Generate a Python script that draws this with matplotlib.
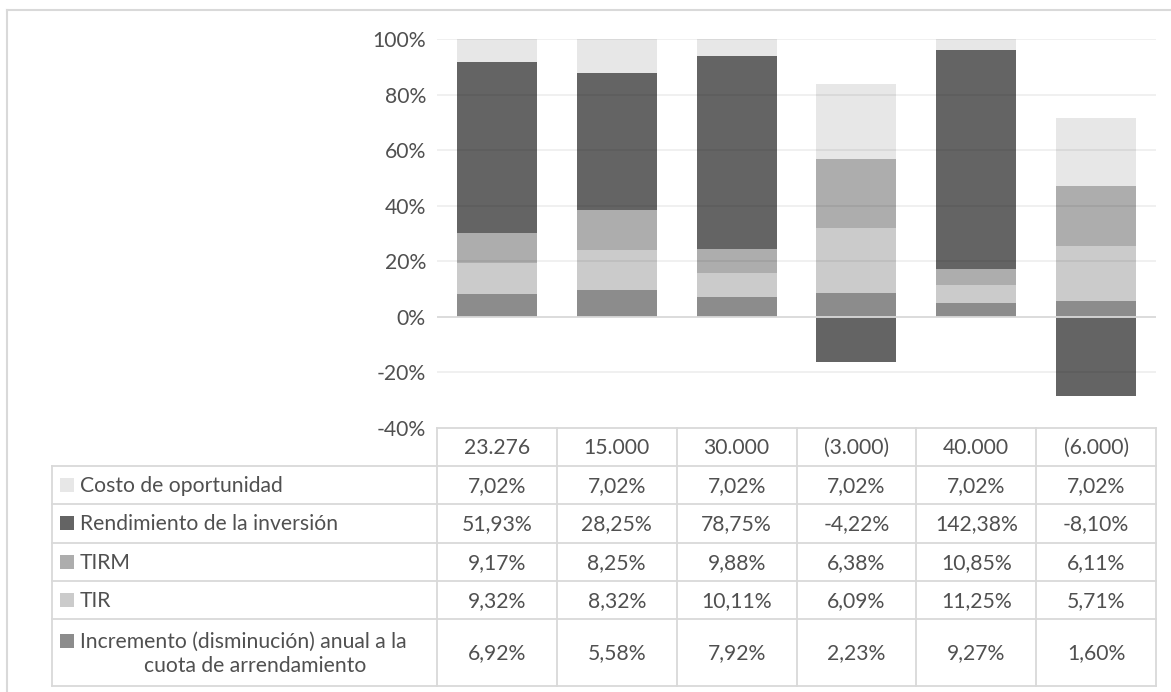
import matplotlib
matplotlib.use("Agg")
import matplotlib.pyplot as plt
import numpy as np
from matplotlib.patches import Rectangle
from matplotlib.lines import Line2D

# ---- data ----
categories = ["23.276", "15.000", "30.000", "(3.000)", "40.000", "(6.000)"]
series_names = ["Costo de oportunidad", "Rendimiento de la inversión", "TIRM", "TIR",
                "Incremento (disminución) anual a la\ncuota de arrendamiento"]
costo = [7.02, 7.02, 7.02, 7.02, 7.02, 7.02]
rendimiento = [51.93, 28.25, 78.75, -4.22, 142.38, -8.10]
tirm = [9.17, 8.25, 9.88, 6.38, 10.85, 6.11]
tir = [9.32, 8.32, 10.11, 6.09, 11.25, 5.71]
incremento = [6.92, 5.58, 7.92, 2.23, 9.27, 1.60]
yticks = [-0.4, -0.2, 0.0, 0.2, 0.4, 0.6, 0.8, 1.0]

colors = {"costo": "#E7E7E7", "rend": "#646464", "tirm": "#ADADAD",
          "tir": "#CBCBCB", "inc": "#8C8C8C"}

W, H = 1171, 692
fig = plt.figure(figsize=(W / 100, H / 100), dpi=100)
plt.rcParams['font.family'] = ['Lato', 'DejaVu Sans']
TXT = "#505050"
LINE = "#D9D9D9"
FS = 15.2


def fx(x):
    return x / W


def fy(y):
    return 1 - y / H


# plot area
px_l, px_r, px_t, px_b = 437, 1156, 39, 428
ax = fig.add_axes([fx(px_l), fy(px_b), fx(px_r - px_l), (px_b - px_t) / H])

# stacking order bottom->top
stack = [("inc", incremento), ("tir", tir), ("tirm", tirm), ("rend", rendimiento), ("costo", costo)]
vals = np.array([s[1] for s in stack], dtype=float)
tot = np.abs(vals).sum(axis=0)
pct = vals / tot
x = np.arange(len(categories))
pos_base = np.zeros(len(categories))
neg_base = np.zeros(len(categories))
for (key, _), p in zip(stack, pct):
    bottoms = np.where(p >= 0, pos_base, neg_base)
    ax.bar(x, p, 0.667, bottom=bottoms, color=colors[key], zorder=2, linewidth=0)
    pos_base = pos_base + np.where(p >= 0, p, 0)
    neg_base = neg_base + np.where(p < 0, p, 0)

ax.set_xlim(-0.5, len(categories) - 0.5)
ax.set_ylim(-0.4, 1.0)
ax.set_yticks(yticks)
ax.set_yticklabels([f"{int(round(t * 100))}%" for t in yticks], color=TXT, fontsize=FS)
ax.tick_params(axis='y', length=0, pad=8)
ax.set_xticks([])
for t in yticks:
    if t == 0:
        ax.axhline(t, color=LINE, lw=1.3, zorder=3)
    elif t > -0.4:
        ax.axhline(t, color=(0, 0, 0, 0.07), lw=1.2, zorder=3)
for s in ax.spines.values():
    s.set_visible(False)

# ---- data table ----
col_edges = [px_l + i * (px_r - px_l) / len(categories) for i in range(len(categories) + 1)]
row_edges = [428, 466, 504, 542.5, 581, 619, 686]
left_edge = 52


def hline(y, x0, x1):
    fig.add_artist(Line2D([fx(x0), fx(x1)], [fy(y), fy(y)], color=LINE, lw=1.3))


def vline(x0, y0, y1):
    fig.add_artist(Line2D([fx(x0), fx(x0)], [fy(y0), fy(y1)], color=LINE, lw=1.3))


hline(row_edges[0], col_edges[0], col_edges[-1])
for y in row_edges[1:]:
    hline(y, left_edge, col_edges[-1])
for xe in col_edges:
    vline(xe, row_edges[0], row_edges[-1])
vline(left_edge, row_edges[1], row_edges[-1])

# header
for i, c in enumerate(categories):
    fig.text(fx((col_edges[i] + col_edges[i + 1]) / 2), fy((row_edges[0] + row_edges[1]) / 2 + 1), c,
             ha='center', va='center', color=TXT, fontsize=FS)

table_rows = [("costo", costo), ("rend", rendimiento), ("tirm", tirm), ("tir", tir), ("inc", incremento)]
for r, ((key, v), name) in enumerate(zip(table_rows, series_names)):
    yc = (row_edges[r + 1] + row_edges[r + 2]) / 2
    for i, val in enumerate(v):
        s = f"{val:.2f}%".replace(".", ",")
        fig.text(fx((col_edges[i] + col_edges[i + 1]) / 2), fy(yc + 1), s,
                 ha='center', va='center', color=TXT, fontsize=FS)
    if "\n" in name:
        l1, l2 = name.split("\n")
        y1, y2 = yc - 12, yc + 13
        fig.text(fx(80), fy(y1 + 1), l1, ha='left', va='center', color=TXT, fontsize=FS)
        fig.text(fx(255), fy(y2 + 1), l2, ha='center', va='center', color=TXT, fontsize=FS)
        ysq = y1
    else:
        fig.text(fx(80), fy(yc + 1), name, ha='left', va='center', color=TXT, fontsize=FS)
        ysq = yc
    fig.add_artist(Rectangle((fx(60), fy(ysq + 7)), fx(14), 14 / H, color=colors[key], lw=0))

# chart border
fig.add_artist(Line2D([fx(6.5), fx(6.5)], [fy(10), fy(H)], color=LINE, lw=1.5))
fig.add_artist(Line2D([fx(6.5), fx(W)], [fy(10), fy(10)], color=LINE, lw=1.5))

fig.savefig("out.png", dpi=100)
